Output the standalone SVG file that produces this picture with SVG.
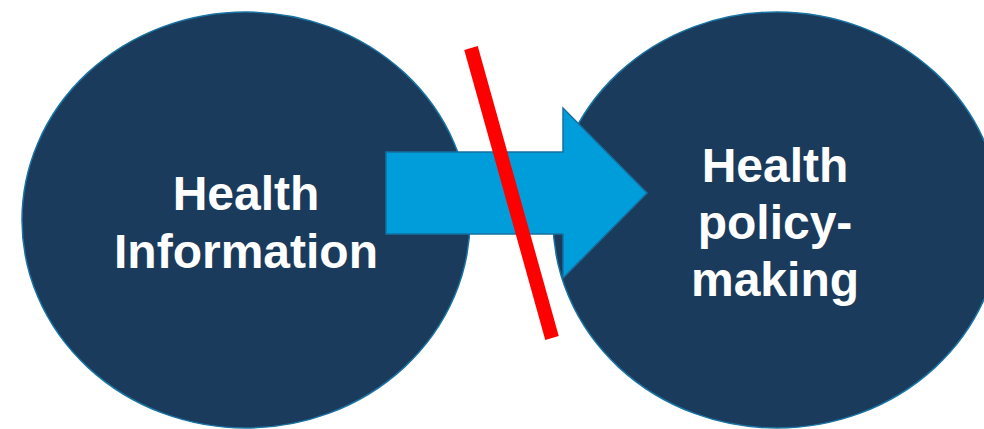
<svg xmlns="http://www.w3.org/2000/svg" width="984" height="429" viewBox="0 0 984 429">
<style>
.node{fill:#1B3B5C;stroke:#1A73A3;stroke-width:1.5}
.lbl{font-family:"Liberation Sans",Arial,sans-serif;font-weight:bold;font-size:48px;fill:#FFFFFF;text-anchor:middle}
.arrow{fill:#009DDB;stroke:#1670A0;stroke-width:1.5}
.cross{stroke:#FF0000;stroke-width:14;fill:none}
</style>
<rect width="984" height="429" fill="#FFFFFF"/>
<g id="node-health-information">
<ellipse class="node" cx="246" cy="220" rx="224" ry="208"/>
<text class="lbl" x="246" y="210">Health</text>
<text class="lbl" x="246" y="268">Information</text>
</g>
<g id="node-health-policy-making">
<ellipse class="node" cx="777" cy="220" rx="224" ry="208"/>
<text class="lbl" x="775" y="182">Health</text>
<text class="lbl" x="775" y="239">policy-</text>
<text class="lbl" x="775" y="296">making</text>
</g>
<g id="connectors">
<path class="arrow" d="M386,152 L563,152 L563,108 L647,193 L563,278 L563,234 L386,234 Z"/>
<line class="cross" x1="471" y1="48" x2="552" y2="338"/>
</g>
</svg>
